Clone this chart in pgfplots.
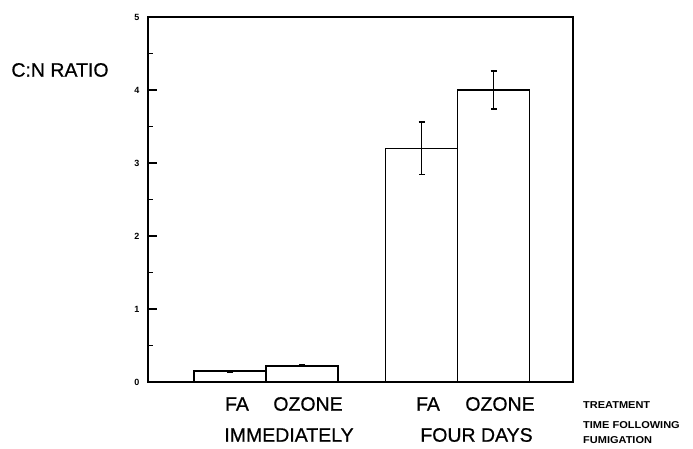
\documentclass[border=0pt]{standalone}
\usepackage{pgfplots}
\pgfplotsset{compat=1.18}
\usepackage{fontspec}
\setmainfont{Liberation Sans}
\newfontfamily\heavy[FakeBold=0.6]{Liberation Sans}
\begin{document}
\begin{tikzpicture}[x=1pt,y=1pt]
\path[use as bounding box] (0,0) rectangle (693,448);
\begin{axis}[
  at={(148pt,66pt)}, anchor=south west,
  scale only axis, width=425pt, height=365pt,
  xmin=148, xmax=573, ymin=0, ymax=5,
  axis line style={line width=2pt},
  xtick=\empty,
  ytick={0,1,2,3,4,5},
  minor ytick={0.5,1.5,2.5,3.5,4.5},
  ytick pos=left,
  tick align=inside,
  major tick length=9pt, minor tick length=5pt,
  every tick/.style={black, line width=1.4pt},
  yticklabel style={font=\bfseries\fontsize{9}{10}\selectfont, xshift=-5pt},
  /pgf/number format/assume math mode=true,
  clip=false,
]
\addplot[ybar, bar width=72, fill=white, draw=black, line width=1.8pt,
  error bars/.cd, y dir=both, y explicit,
  error bar style={line width=1.6pt},
  error mark options={rotate=90, mark size=3pt, line width=1.6pt}]
  coordinates {
  (230,0.15) +- (0,0.01)
  (302,0.22) +- (0,0.01)
  (421.5,3.20) +- (0,0.36)
  (493.5,4.00) +- (0,0.26)
  };
\end{axis}
\node[font=\heavy\fontsize{19.5}{22}\selectfont] at (60,378) {C:N RATIO};
\node[font=\heavy\fontsize{19.5}{22}\selectfont] at (237,44) {FA};
\node[font=\heavy\fontsize{19.5}{22}\selectfont] at (308,44) {OZONE};
\node[font=\heavy\fontsize{19.5}{22}\selectfont] at (289,13) {IMMEDIATELY};
\node[font=\heavy\fontsize{19.5}{22}\selectfont] at (428,44) {FA};
\node[font=\heavy\fontsize{19.5}{22}\selectfont] at (500,44) {OZONE};
\node[font=\heavy\fontsize{19.5}{22}\selectfont] at (476.5,13) {FOUR DAYS};
\node[anchor=west, inner sep=0pt, font=\bfseries\fontsize{10}{12}\selectfont] at (583,43) {\scalebox{1.1}[1]{TREATMENT}};
\node[anchor=west, inner sep=0pt, font=\bfseries\fontsize{10}{12}\selectfont] at (583,23) {\scalebox{1.1}[1]{TIME FOLLOWING}};
\node[anchor=west, inner sep=0pt, font=\bfseries\fontsize{10}{12}\selectfont] at (583,8) {\scalebox{1.1}[1]{FUMIGATION}};
\end{tikzpicture}
\end{document}
